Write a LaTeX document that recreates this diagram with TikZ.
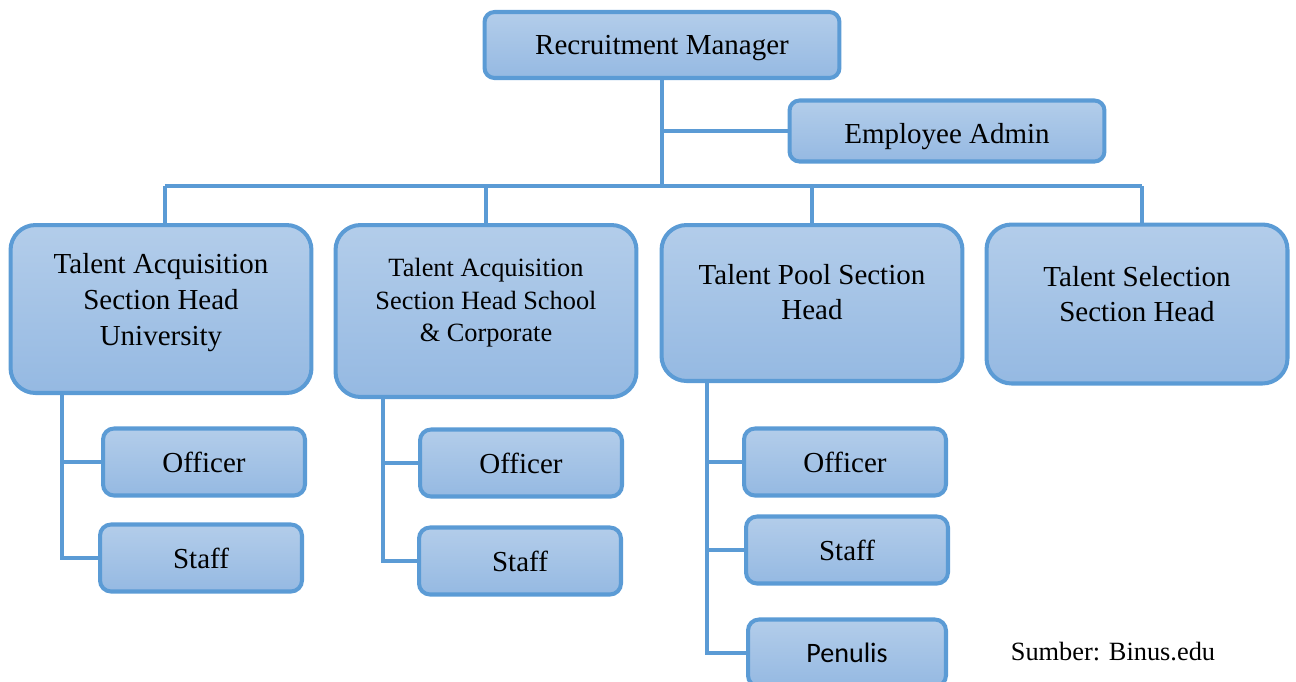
\documentclass[tikz,border=0pt]{standalone}
\usepackage{fontspec}
\setmainfont{Liberation Serif}
\newfontfamily\calibri{Carlito}
\usepackage{tikz}
\usetikzlibrary{calc}
\definecolor{boxline}{HTML}{5B9BD5}
\definecolor{boxtop}{HTML}{B3CDEA}
\definecolor{boxbot}{HTML}{95B9E2}
\tikzstyle{box}=[draw=boxline, line width=2.3pt, top color=boxtop, bottom color=boxbot, align=center, font=\fontsize{16.5}{20.4}\selectfont]
\tikzstyle{bigbox}=[box, rounded corners=0.5cm, minimum width=6.02cm]
\tikzstyle{smallbox}=[box, rounded corners=0.22cm, minimum width=4.04cm, minimum height=1.34cm]
\tikzstyle{conn}=[draw=boxline, line width=2.3pt]
\begin{document}
\begin{tikzpicture}[x=0.02cm,y=-0.02cm]
\useasboundingbox (0,0) rectangle (1296,681);
\node[box, rounded corners=0.2cm, minimum width=7.1cm, minimum height=1.32cm, text height=11pt, text depth=0pt] (rm) at (662,45) {Recruitment Manager};
\node[box, rounded corners=0.2cm, minimum width=6.3cm, minimum height=1.22cm, text height=14.4pt, text depth=0pt] (ea) at (947,131) {Employee Admin};
\node[bigbox, minimum height=3.36cm, text depth=11.2pt] (tau) at (161,309) {Talent Acquisition\\Section Head\\University};
\node[bigbox, minimum height=3.44cm, text depth=12.6pt, font=\fontsize{15}{18.5}\selectfont] (tas) at (486,311) {Talent Acquisition\\Section Head School\\\& Corporate};
\node[bigbox, minimum height=3.12cm, text depth=12.6pt] (tp) at (812,303) {Talent Pool Section\\Head};
\node[bigbox, minimum height=3.18cm, text depth=11.4pt] (tsel) at (1137,304) {Talent Selection\\Section Head};
\node[smallbox] (of1) at (204,462) {Officer};
\node[smallbox] (st1) at (201,558) {Staff};
\node[smallbox] (of2) at (521,463) {Officer};
\node[smallbox] (st2) at (520,561) {Staff};
\node[smallbox] (of3) at (845,462) {Officer};
\node[smallbox] (st3) at (847,550) {Staff};
\node[smallbox, minimum width=3.96cm, font=\calibri\fontsize{16}{19}\selectfont] (pen) at (847,653) {Penulis};
\node[font=\fontsize{15}{18}\selectfont] (src) at (1113,652) {Sumber: Binus.edu};
\coordinate (busl) at (165,186);
\coordinate (busr) at (1142,186);
\coordinate (d1) at (62,0);
\coordinate (d2) at (383,0);
\coordinate (d3) at (707,0);
\draw[conn] (busl) -- (busr);
\draw[conn] (rm.south) -- (rm.south |- busl);
\draw[conn] (rm.south |- ea.west) -- (ea.west);
\draw[conn] (tau.north -| busl) -- (busl);
\draw[conn] (tas.north) -- (tas.north |- busl);
\draw[conn] (tp.north) -- (tp.north |- busl);
\draw[conn] (tsel.north -| busr) -- (busr);
\draw[conn] (tau.south -| d1) |- (st1.west);
\draw[conn] (d1 |- of1.west) -- (of1.west);
\draw[conn] (tas.south -| d2) |- (st2.west);
\draw[conn] (d2 |- of2.west) -- (of2.west);
\draw[conn] (tp.south -| d3) |- (pen.west);
\draw[conn] (d3 |- of3.west) -- (of3.west);
\draw[conn] (d3 |- st3.west) -- (st3.west);
\end{tikzpicture}
\end{document}
